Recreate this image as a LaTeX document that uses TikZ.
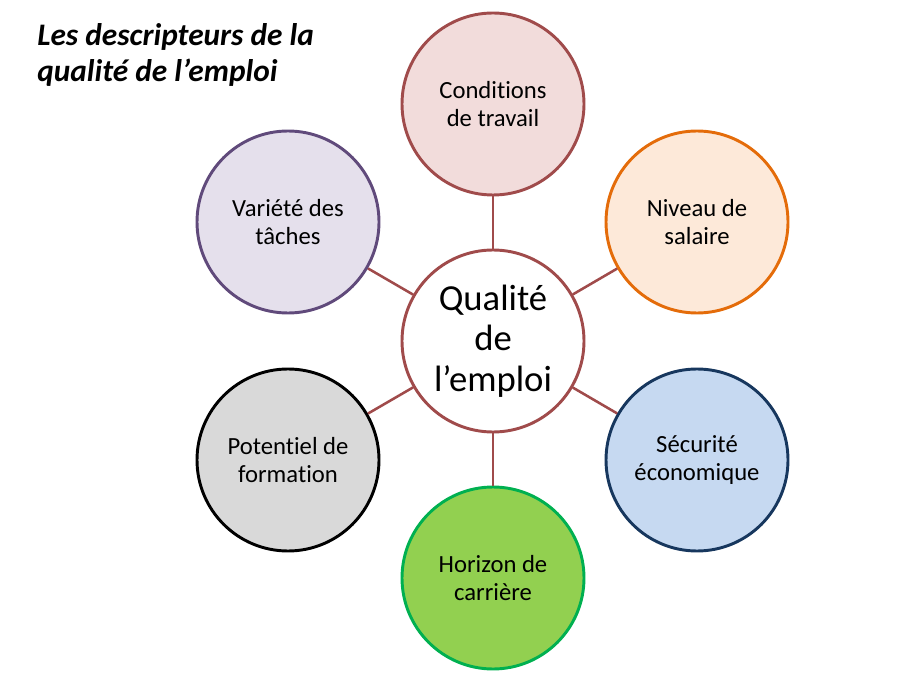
\documentclass[tikz,border=0pt]{standalone}
\usepackage{fontspec}
\setmainfont[Ligatures=NoCommon]{Carlito}
\definecolor{lnk}{RGB}{160,75,75}
\definecolor{pinkf}{RGB}{242,220,219}
\definecolor{orab}{RGB}{228,108,10}
\definecolor{oraf}{RGB}{253,233,217}
\definecolor{blub}{RGB}{23,55,94}
\definecolor{bluf}{RGB}{198,217,241}
\definecolor{greb}{RGB}{0,176,80}
\definecolor{gref}{RGB}{146,208,80}
\definecolor{gryf}{RGB}{217,217,217}
\definecolor{purb}{RGB}{96,74,123}
\definecolor{purf}{RGB}{229,224,236}
\tikzset{
  sat/.style={circle, minimum size=136.5pt, inner sep=0pt, line width=2.2pt, align=center,
    font=\fontsize{18.5}{20.5}\selectfont},
  hub/.style={circle, minimum size=136.5pt, inner sep=0pt, line width=2.2pt, align=center,
    draw=lnk, fill=white, font=\fontsize{27.5}{30.3}\selectfont},
  link/.style={draw=lnk, line width=1.9pt}
}
\begin{document}
\begin{tikzpicture}[x=0.75pt,y=-0.75pt]
\useasboundingbox (0,0) rectangle (909,680);
\node[hub] (c) at (493,341) {Qualité\\de\\l’emploi};
\node[sat, draw=lnk, fill=pinkf] (s1) at (493,104) {Conditions\\de travail};
\node[sat, draw=orab, fill=oraf] (s2) at (697,222) {Niveau de\\salaire};
\node[sat, draw=blub, fill=bluf] (s3) at (697,460) {Sécurité\\économique};
\node[sat, draw=greb, fill=gref] (s4) at (493,578) {Horizon de\\carrière};
\node[sat, draw=black, fill=gryf] (s5) at (288,460) {Potentiel de\\formation};
\node[sat, draw=purb, fill=purf] (s6) at (288,222) {Variété des\\tâches};
\foreach \s in {s1,s2,s3,s4,s5,s6} \draw[link] (c) -- (\s);
\node[anchor=north west, align=left, inner sep=0pt, font=\fontsize{23.5}{27.5}\selectfont\bfseries\itshape] (t) at (37,23) {Les descripteurs de la\\qualité de l’emploi};
\end{tikzpicture}
\end{document}
